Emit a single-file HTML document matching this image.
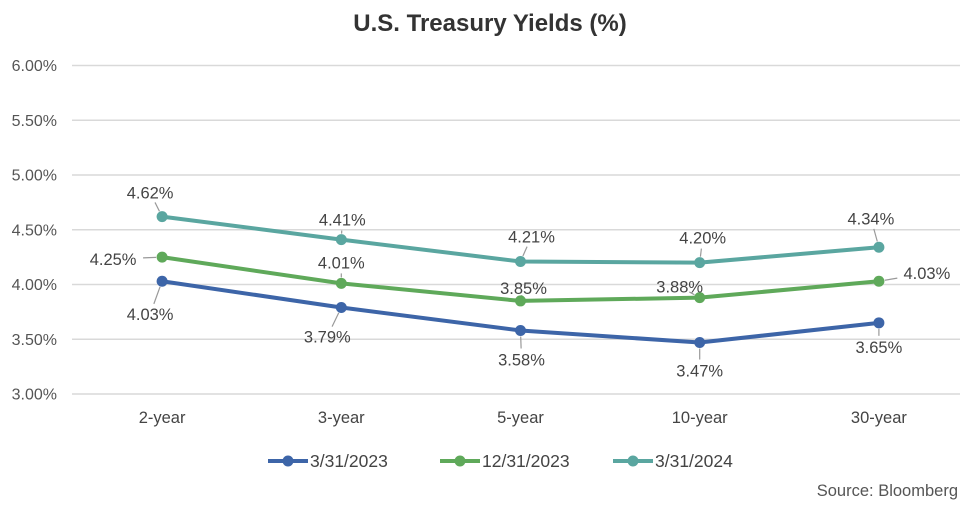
<!DOCTYPE html>
<html><head><meta charset="utf-8"><style>
body{margin:0;background:#fff;width:976px;height:504px;overflow:hidden;font-family:"Liberation Sans",sans-serif}
</style></head><body>
<svg id="chart" width="976" height="504" xmlns="http://www.w3.org/2000/svg">
<text x="490" y="31" text-anchor="middle" font-size="24" font-weight="bold" fill="#333">U.S. Treasury Yields (%)</text>
<g id="grid"></g><g id="yt"></g><g id="xt"></g><g id="series"></g><g id="legend"></g>
<text x="958" y="496" text-anchor="end" font-size="16.5" fill="#555">Source: Bloomberg</text>
</svg>
<script>
const categories=["2-year","3-year","5-year","10-year","30-year"];
const seriesNames=["3/31/2023","12/31/2023","3/31/2024"];
const y2023=[4.03,3.79,3.58,3.47,3.65];
const y2023b=[4.25,4.01,3.85,3.88,4.03];
const y2024=[4.62,4.41,4.21,4.20,4.34];
const yTicks=[3.0,3.5,4.0,4.5,5.0,5.5,6.0];
const colors=["#3d65a8","#5fa95a","#5aa6a0"];
// label offsets (styling)
const offs=[
 [[-12,33],[-14,29],[1,29],[0,28],[0,24]],
 [[-49,2],[0,-21],[3,-13],[-20,-11],[48,-8]],
 [[-12,-24],[1,-20],[11,-25],[3,-25],[-8,-29]]
];
const NS="http://www.w3.org/2000/svg";
const X0=72,BW=179.2;
function xs(i){return X0+BW*(i+0.5)+0.5;}
function ys(v){return 394-(v-3)*109.5;}
function mk(t,a,p){const e=document.createElementNS(NS,t);for(const k in a)e.setAttribute(k,a[k]);p.appendChild(e);return e;}
const g=document.getElementById('grid'),yt=document.getElementById('yt'),xt=document.getElementById('xt'),sg=document.getElementById('series'),lg=document.getElementById('legend');
yTicks.forEach(v=>{
 const l=mk('line',{x1:X0,x2:960,y1:ys(v),y2:ys(v),stroke:'#d9d9d9','stroke-width':1.5},g);
 
 
 const t=mk('text',{x:57,y:ys(v)+5.5,'text-anchor':'end','font-size':16,fill:'#555'},yt);
 t.textContent=v.toFixed(2)+'%';
 
 
});
categories.forEach((c,i)=>{
 const t=mk('text',{x:xs(i),y:423,'text-anchor':'middle','font-size':16.5,fill:'#444'},xt);
 t.textContent=c;
 
 
});
[y2023,y2023b,y2024].forEach((arr,s)=>{
 const grp=mk('g',{},sg);
 
 
 const pl=mk('polyline',{points:arr.map((v,i)=>xs(i)+','+ys(v)).join(' '),fill:'none',stroke:colors[s],'stroke-width':4,'stroke-linejoin':'round'},grp);
 
 
 arr.forEach((v,i)=>{
  const px=xs(i),py=ys(v),o=offs[s][i];
  const lx=px+o[0],ly=py+o[1];
  const dx=o[0],dy=o[1],len=Math.hypot(dx,dy);
  const cut=Math.abs(dx)>30?30:11;
  const ld=mk('line',{x1:px+dx*6/len,y1:py+dy*6/len,x2:px+dx*(len-cut)/len,y2:py+dy*(len-cut)/len,stroke:'#999','stroke-width':1.2},grp);
  
  
  const c=mk('circle',{cx:px,cy:py,r:5.5,fill:colors[s]},grp);
  
  
  const t=mk('text',{x:lx,y:ly+6,'text-anchor':'middle','font-size':16.5,fill:'#444'},grp);
  t.textContent=v.toFixed(2)+'%';
  
  
 });
});
const lx0=[268,440,613];
seriesNames.forEach((n,s)=>{
 const ln=mk('line',{x1:lx0[s],x2:lx0[s]+40,y1:461,y2:461,stroke:colors[s],'stroke-width':4},lg);
 
 
 const c=mk('circle',{cx:lx0[s]+20,cy:461,r:5.5,fill:colors[s]},lg);
 
 
 const t=mk('text',{x:lx0[s]+42,y:467,'font-size':17.5,fill:'#444'},lg);
 t.textContent=n;
 
 
});
</script>
</body></html>
